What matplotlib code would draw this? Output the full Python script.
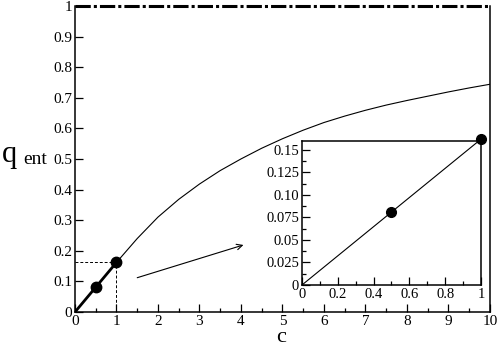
import matplotlib
matplotlib.use('Agg')
import matplotlib.pyplot as plt
from matplotlib.ticker import MultipleLocator

plt.rcParams['font.family'] = ['Liberation Serif', 'DejaVu Serif']

# data
c_lin = [0.0, 0.5, 1.0]
q_lin = [0.0, 0.081, 0.162]
c_pts = [0.5, 1.0]
q_pts = [0.081, 0.162]
c_curve = [1.0, 1.5, 2.0, 2.5, 3.0, 3.5, 4.0, 4.5, 5.0, 5.5, 6.0, 6.5,
           7.0, 7.5, 8.0, 8.5, 9.0, 9.5, 10.0]
q_curve = [0.162, 0.240, 0.310, 0.368, 0.418, 0.462, 0.500, 0.535, 0.566,
           0.594, 0.619, 0.640, 0.659, 0.676, 0.691, 0.705, 0.719, 0.732, 0.744]
q_limit = 1.0

main_xticks = list(range(0, 11))
main_yticks = [0, 0.1, 0.2, 0.3, 0.4, 0.5, 0.6, 0.7, 0.8, 0.9, 1]
main_ylabels = ['0', '0.1', '0.2', '0.3', '0.4', '0.5', '0.6', '0.7', '0.8', '0.9', '1']
inset_xticks = [0, 0.2, 0.4, 0.6, 0.8, 1]
inset_xlabels = ['0', '0.2', '0.4', '0.6', '0.8', '1']
inset_yticks = [0, 0.025, 0.05, 0.075, 0.10, 0.125, 0.15]
inset_ylabels = ['0', '0.025', '0.05', '0.075', '0.10', '0.125', '0.15']


def style_axes(ax, fs):
    for s in ax.spines.values():
        s.set_linewidth(1.1)
    ax.tick_params(which='both', direction='in', top=False, right=False,
                   labelsize=fs, pad=2)
    ax.tick_params(which='major', length=6, width=0.9)
    ax.tick_params(which='minor', length=3, width=0.9)


def main():
    fig = plt.figure(figsize=(4.98, 3.47), dpi=100)

    # main plot
    ax = fig.add_axes([0.1506, 0.1009, 0.833, 0.882])
    ax.plot(c_curve, q_curve, color='black', lw=0.8)
    ax.plot(c_lin, q_lin, color='black', lw=2.0)
    ax.plot(c_pts, q_pts, 'o', color='black', ms=7.5, zorder=5, clip_on=False)
    ax.plot([0, 10], [q_limit, q_limit], color='black', lw=2.2,
            linestyle=(0, (5, 1, 1, 1)), clip_on=False, zorder=6)
    ax.plot([0, c_pts[1]], [q_pts[1], q_pts[1]], color='black', lw=0.7,
            linestyle=(0, (3, 2)))
    ax.plot([c_pts[1], c_pts[1]], [0, q_pts[1]], color='black', lw=0.7,
            linestyle=(0, (3, 2)))
    ax.annotate('', xy=(4.06, 0.219), xytext=(1.5, 0.112),
                arrowprops=dict(arrowstyle='->', lw=0.8, color='black',
                                mutation_scale=10, shrinkA=0, shrinkB=0))
    ax.set_xlim(0, 10)
    ax.set_ylim(0, 1)
    ax.set_xticks(main_xticks)
    ax.set_yticks(main_yticks)
    ax.set_yticklabels(main_ylabels)
    ax.xaxis.set_minor_locator(MultipleLocator(0.5))
    style_axes(ax, 11)
    ax.spines['top'].set_visible(False)

    fig.text(0.004, 0.532, 'q', fontsize=22, ha='left', va='baseline')
    fig.text(0.046, 0.528, 'ent', fontsize=14, ha='left', va='baseline')
    fig.text(0.565, 0.0, 'c', fontsize=16, ha='center', va='bottom')

    # inset
    ins = fig.add_axes([0.6064, 0.1787, 0.3594, 0.415])
    ins.plot(c_lin, q_lin, color='black', lw=0.8)
    ins.plot(c_pts, q_pts, 'o', color='black', ms=7, zorder=5, clip_on=False)
    ins.set_xlim(0, 1)
    ins.set_ylim(0, 0.16)
    ins.set_xticks(inset_xticks)
    ins.set_xticklabels(inset_xlabels)
    ins.set_yticks(inset_yticks)
    ins.set_yticklabels(inset_ylabels)
    ins.xaxis.set_minor_locator(MultipleLocator(0.1))
    ins.yaxis.set_minor_locator(MultipleLocator(0.0125))
    style_axes(ins, 10.5)

    fig.savefig('out.png', dpi=100)


if __name__ == '__main__':
    main()
